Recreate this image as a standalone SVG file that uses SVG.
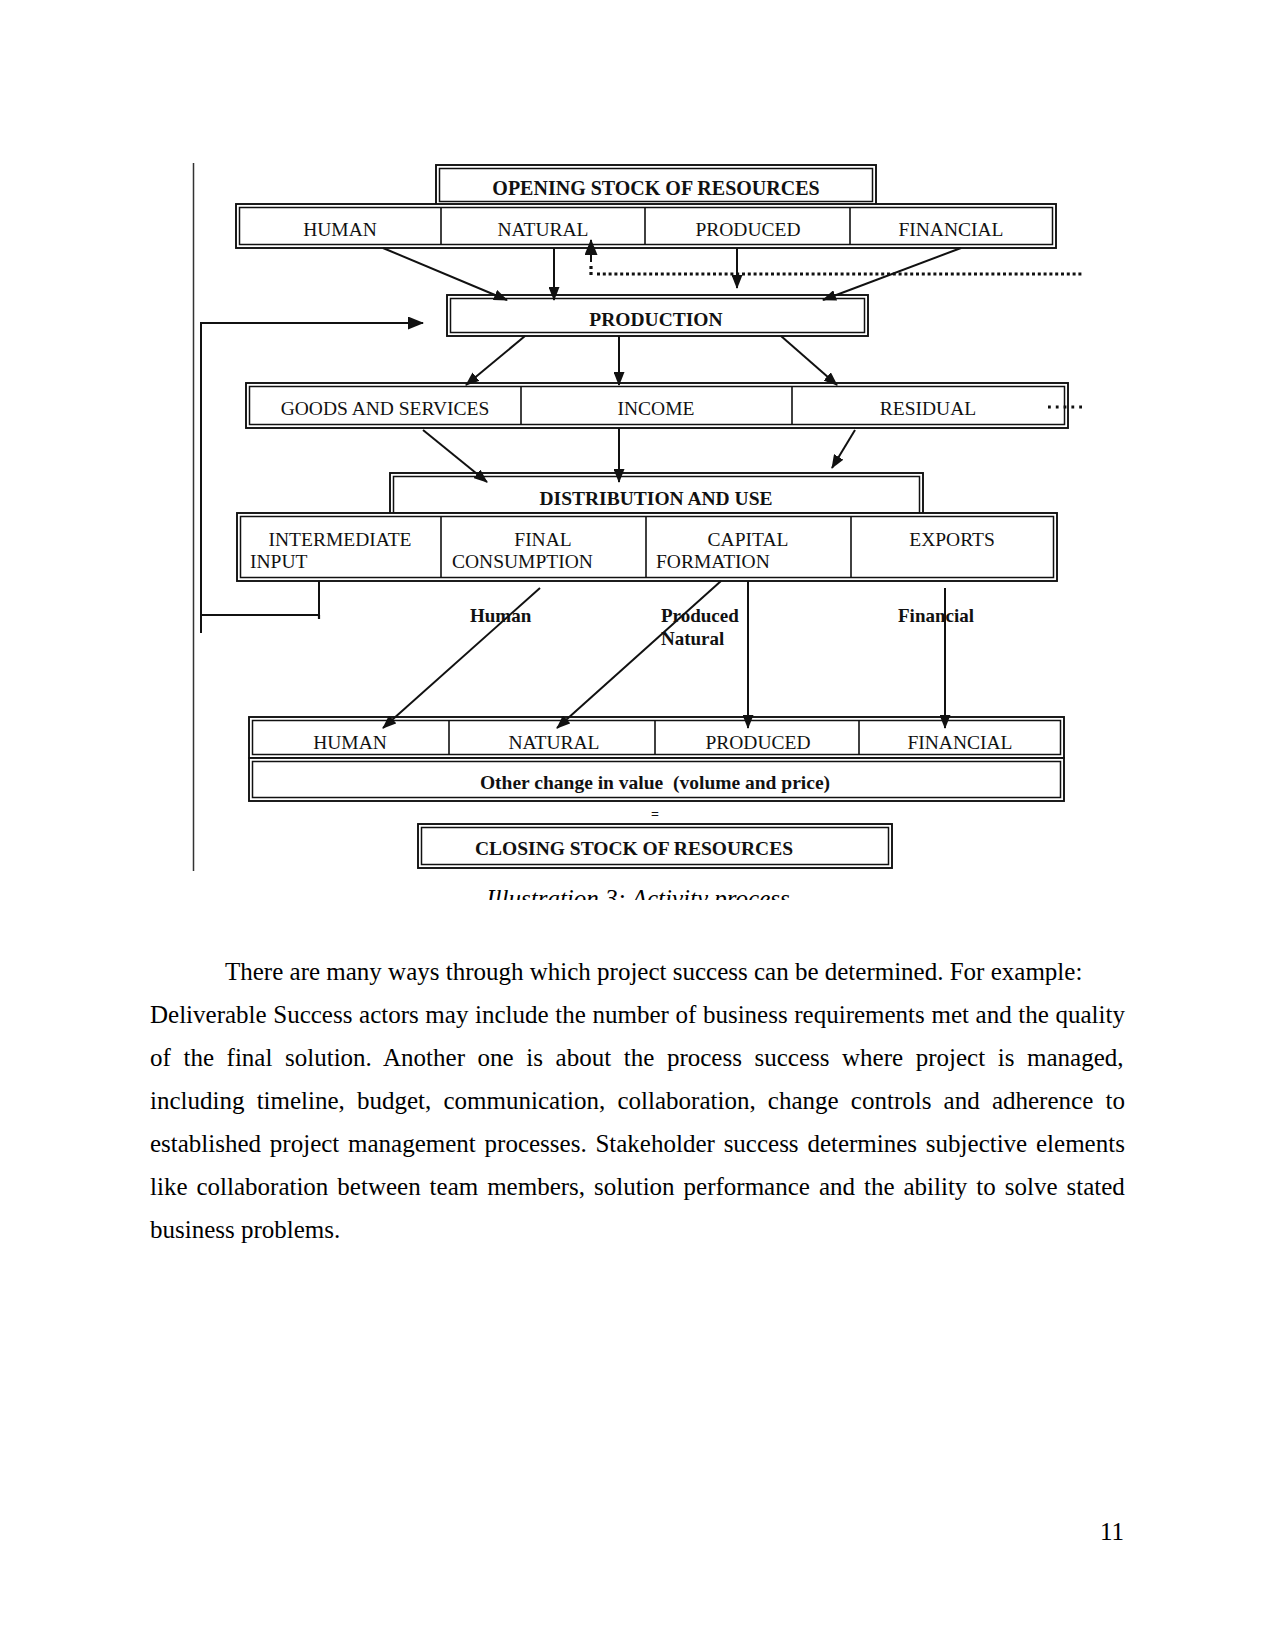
<svg xmlns="http://www.w3.org/2000/svg" width="1275" height="1650" viewBox="0 0 1275 1650">
<style>
.o{fill:#fff;stroke:#111;stroke-width:1.9}
.i{fill:none;stroke:#111;stroke-width:1.5}
.dv{stroke:#111;stroke-width:1.6}
.t{font-family:"Liberation Serif","Times New Roman",serif;font-size:19.5px;fill:#111;text-anchor:middle}
.tl{font-family:"Liberation Serif","Times New Roman",serif;font-size:19.5px;fill:#111}
.b{font-weight:bold}
.lb{font-family:"Liberation Serif","Times New Roman",serif;font-size:19px;font-weight:bold;fill:#111}
.c{stroke:#111;stroke-width:2;fill:none}
.body{font-family:"Liberation Serif","Times New Roman",serif;font-size:25px;fill:#000}
</style>
<defs>
<marker id="ah" viewBox="0 0 14 11" markerWidth="14" markerHeight="11" refX="13" refY="5.5" orient="auto" markerUnits="userSpaceOnUse">
<path d="M0,0 L14,5.5 L0,11 z" fill="#111"/>
</marker>
<marker id="ahb" viewBox="0 0 16 13" markerWidth="16" markerHeight="13" refX="15" refY="6.5" orient="auto" markerUnits="userSpaceOnUse">
<path d="M0,0 L16,6.5 L0,13 z" fill="#111"/>
</marker>
<clipPath id="capclip"><rect x="0" y="880" width="1275" height="20"/></clipPath>
</defs>

<line x1="193.5" y1="163" x2="193.5" y2="871" stroke="#333" stroke-width="1.5"/>

<g id="opening-stock">
<rect class="o" x="436" y="165" width="440" height="40"/>
<rect class="i" x="439.5" y="168.5" width="433" height="33"/>
<text class="t b" x="656" y="195" style="font-size:20px">OPENING STOCK OF RESOURCES</text>
</g>

<g id="opening-resources">
<rect class="o" x="236" y="204" width="820" height="44"/>
<rect class="i" x="239.5" y="207.5" width="813" height="37"/>
<line class="dv" x1="441" y1="207.5" x2="441" y2="244.5"/>
<line class="dv" x1="645" y1="207.5" x2="645" y2="244.5"/>
<line class="dv" x1="850" y1="207.5" x2="850" y2="244.5"/>
<text class="t" x="340" y="236">HUMAN</text>
<text class="t" x="543" y="236">NATURAL</text>
<text class="t" x="748" y="236">PRODUCED</text>
<text class="t" x="951" y="236">FINANCIAL</text>
</g>

<g id="production">
<rect class="o" x="447" y="295" width="421" height="41"/>
<rect class="i" x="450.5" y="298.5" width="414" height="34"/>
<text class="t b" x="656" y="326">PRODUCTION</text>
</g>

<g id="outputs">
<rect class="o" x="246" y="383" width="822" height="45"/>
<rect class="i" x="249.5" y="386.5" width="815" height="38"/>
<line class="dv" x1="521" y1="386.5" x2="521" y2="424.5"/>
<line class="dv" x1="792" y1="386.5" x2="792" y2="424.5"/>
<text class="t" x="385" y="415">GOODS AND SERVICES</text>
<text class="t" x="656" y="415">INCOME</text>
<text class="t" x="928" y="415">RESIDUAL</text>
</g>

<g id="distribution">
<rect class="o" x="390" y="473" width="533" height="41"/>
<rect class="i" x="393.5" y="476.5" width="526" height="36.5"/>
<text class="t b" x="656" y="505">DISTRIBUTION AND USE</text>
</g>

<g id="uses">
<rect class="o" x="237" y="513" width="820" height="68"/>
<rect class="i" x="240.5" y="516.5" width="813" height="61"/>
<line class="dv" x1="441" y1="516.5" x2="441" y2="577.5"/>
<line class="dv" x1="646" y1="516.5" x2="646" y2="577.5"/>
<line class="dv" x1="851" y1="516.5" x2="851" y2="577.5"/>
<text class="t" x="340" y="546">INTERMEDIATE</text>
<text class="tl" x="250" y="568">INPUT</text>
<text class="t" x="543" y="546">FINAL</text>
<text class="tl" x="452" y="568">CONSUMPTION</text>
<text class="t" x="748" y="546">CAPITAL</text>
<text class="tl" x="656" y="568">FORMATION</text>
<text class="t" x="952" y="546">EXPORTS</text>
</g>

<g id="closing-resources">
<rect class="o" x="249" y="717" width="815" height="41"/>
<rect class="i" x="252.5" y="720.5" width="808" height="34"/>
<line class="dv" x1="449" y1="720.5" x2="449" y2="754.5"/>
<line class="dv" x1="655" y1="720.5" x2="655" y2="754.5"/>
<line class="dv" x1="859" y1="720.5" x2="859" y2="754.5"/>
<text class="t" x="350" y="749">HUMAN</text>
<text class="t" x="554" y="749">NATURAL</text>
<text class="t" x="758" y="749">PRODUCED</text>
<text class="t" x="960" y="749">FINANCIAL</text>
</g>

<g id="other-change">
<rect class="o" x="249" y="758" width="815" height="43"/>
<rect class="i" x="252.5" y="761.5" width="808" height="36"/>
<text class="t b" x="655" y="789" xml:space="preserve">Other change in value  (volume and price)</text>
</g>

<g id="equals">
<text class="t b" x="655" y="819" style="font-size:14px">=</text>
</g>

<g id="closing-stock">
<rect class="o" x="418" y="824" width="474" height="44"/>
<rect class="i" x="421.5" y="827.5" width="467" height="37"/>
<text class="t b" x="634" y="855">CLOSING STOCK OF RESOURCES</text>
</g>

<g id="connector-labels">
<text class="lb" x="470" y="622">Human</text>
<text class="lb" x="661" y="622">Produced</text>
<text class="lb" x="661" y="645">Natural</text>
<text class="lb" x="898" y="622">Financial</text>
</g>

<g id="connectors">
<line class="c" x1="383" y1="248" x2="507" y2="300" marker-end="url(#ah)"/>
<line class="c" x1="554" y1="248" x2="554" y2="300" marker-end="url(#ah)"/>
<line class="c" x1="591" y1="262" x2="591" y2="240" marker-end="url(#ahb)"/>
<line x1="591" y1="266" x2="591" y2="278" stroke="#111" stroke-width="3.2" stroke-dasharray="3 3"/>
<line class="c" x1="737" y1="248" x2="737" y2="288" marker-end="url(#ah)"/>
<line class="c" x1="961" y1="248" x2="823" y2="300" marker-end="url(#ah)"/>
<line x1="597" y1="274" x2="1082" y2="274" stroke="#111" stroke-width="3" stroke-dasharray="3 2.8"/>
<line class="c" x1="201" y1="323" x2="423" y2="323" stroke-width="2.5" marker-end="url(#ahb)"/>
<polyline class="c" points="201,322 201,633" stroke-width="2.2"/>
<polyline class="c" points="201,615 319,615 319,581" stroke-width="2.2"/>
<line x1="319" y1="615" x2="319" y2="619" stroke="#111" stroke-width="2.2"/>
<line class="c" x1="525" y1="336" x2="466" y2="385" marker-end="url(#ah)"/>
<line class="c" x1="619" y1="336" x2="619" y2="385" marker-end="url(#ah)"/>
<line class="c" x1="781" y1="336" x2="837" y2="385" marker-end="url(#ah)"/>
<line class="c" x1="423" y1="430" x2="487" y2="482" marker-end="url(#ah)"/>
<line class="c" x1="619" y1="428" x2="619" y2="482" marker-end="url(#ah)"/>
<line class="c" x1="855" y1="430" x2="832" y2="468" marker-end="url(#ah)"/>
<line x1="1048" y1="407" x2="1084" y2="407" stroke="#111" stroke-width="2.8" stroke-dasharray="2.8 5"/>
<line class="c" x1="540" y1="588" x2="383" y2="728" marker-end="url(#ah)"/>
<line class="c" x1="721" y1="581" x2="557" y2="728" marker-end="url(#ah)"/>
<line class="c" x1="748" y1="581" x2="748" y2="728" marker-end="url(#ah)"/>
<line class="c" x1="945" y1="588" x2="945" y2="728" marker-end="url(#ah)"/>
</g>

<g id="caption" clip-path="url(#capclip)">
<text x="638" y="907" text-anchor="middle" style="font-family:'Liberation Serif','Times New Roman',serif;font-size:25px;font-style:italic;fill:#000">Illustration 3: Activity process</text>
</g>

<g id="body-text" class="body">
<text x="225" y="980">There are many ways through which project success can be determined. For example:</text>
<text x="150" y="1023" word-spacing="0.39">Deliverable Success actors may include the number of business requirements met and the quality</text>
<text x="150" y="1066" word-spacing="6.36">of the final solution. Another one is about the process success where project is managed,</text>
<text x="150" y="1109" word-spacing="5.96">including timeline, budget, communication, collaboration, change controls and adherence to</text>
<text x="150" y="1152" word-spacing="2.54">established project management processes. Stakeholder success determines subjective elements</text>
<text x="150" y="1195" word-spacing="2.73">like collaboration between team members, solution performance and the ability to solve stated</text>
<text x="150" y="1238">business problems.</text>
</g>

<text class="body" x="1124" y="1540" text-anchor="end">11</text>
</svg>
